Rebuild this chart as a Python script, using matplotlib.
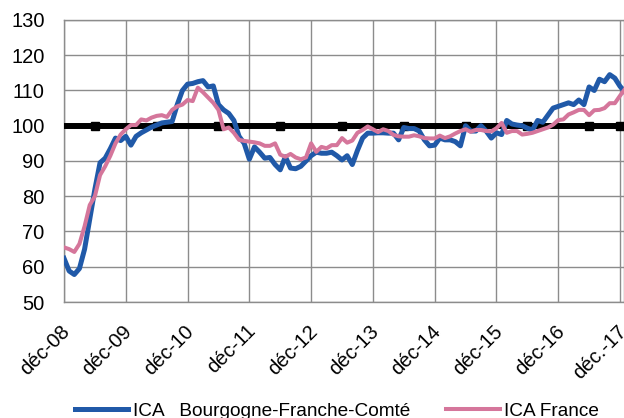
import matplotlib
matplotlib.use("Agg")
import matplotlib.pyplot as plt
import matplotlib.transforms as mtransforms

plt.rcParams['font.family'] = ['Liberation Sans', 'DejaVu Sans']

# Monthly index, déc-08 ... (one point past déc-17)
bfc = [62.4, 58.8, 57.8, 59.5, 65, 73.5, 82, 89.5, 90.8, 93.5, 96.5, 95.8,
       97, 94.5, 97, 98, 98.8, 99.6, 100.2, 100.8, 101, 101.2, 106, 110,
       111.8, 112, 112.5, 112.8, 111, 111.3, 106, 104.5, 103.5, 101.5, 97, 95,
       90.5, 94, 92.5, 90.8, 91, 89, 87.5, 91.2, 88, 87.8, 88.5, 90,
       91.5, 92.5, 92.2, 92.2, 92.5, 91.5, 90.3, 91.5, 89, 93, 96.5, 97.9,
       97.9, 98, 98, 97.9, 97.9, 96, 99.5, 99.2, 99.2, 98.5, 96, 94.3,
       94.5, 96.5, 96, 96, 95.5, 94.3, 100, 98.5, 98.5, 100, 98.5, 96.5,
       98, 97.5, 101.5, 100.5, 100.2, 100, 99.3, 98.8, 101.5, 101, 103, 105,
       105.5, 106, 106.5, 106, 107.3, 106, 111, 110, 113.2, 112.5, 114.5, 113.5,
       111.2, 109.5]
france = [65.5, 65, 64.2, 66.5, 71.5, 77.5, 80, 86, 88.5, 91.5, 95, 97.5,
          99, 100.2, 100.2, 101.8, 101.5, 102.3, 102.8, 103, 102.5, 104.5, 105.5, 106,
          107.3, 107, 110.8, 109.5, 108, 106.5, 104.5, 99, 99.5, 98, 96, 95.7,
          95.5, 95.3, 95, 94.3, 94.3, 95, 91.8, 91.2, 92, 91, 90.5, 91,
          95, 92.6, 94, 93.6, 94.5, 94.5, 96.5, 95.2, 95.8, 98, 98.8, 99.8,
          99, 98.2, 99, 98.5, 97.4, 97, 96.9, 96.9, 97.3, 97, 96.5, 96.4,
          96.4, 97.2, 96.5, 97, 97.8, 98.5, 99, 98.3, 98.8, 98.8, 98.5, 98.4,
          99.3, 100.8, 98, 98.5, 98.5, 97.5, 97.7, 98, 98.5, 99, 99.5, 100.3,
          101.6, 101.8, 103.2, 103.8, 104.5, 104.5, 103, 104.4, 104.5, 105, 106.4, 106.4,
          108.5, 110.5]
base = [100] * len(bfc)
base_markers = [6, 18, 30, 42, 54, 66, 78, 90, 102, 108]

tick_pos = [0, 12, 24, 36, 48, 60, 72, 84, 96, 108]
tick_labels = ['déc-08', 'déc-09', 'déc-10', 'déc-11', 'déc-12', 'déc-13',
               'déc-14', 'déc-15', 'déc-16', 'déc.-17']
yticks = [50, 60, 70, 80, 90, 100, 110, 120, 130]

W, H = 624, 418
fig = plt.figure(figsize=(W / 100, H / 100), dpi=100)
ax = fig.add_axes([64 / W, 1 - 302 / H, 1 - 64 / W, (302 - 20) / H])

x = list(range(len(bfc)))
ax.plot(x, base, color='black', lw=4.3, marker='s', markersize=5.5,
        markevery=base_markers, zorder=3, solid_capstyle='butt')
l1, = ax.plot(x, bfc, color='#2059A8', lw=3.6, zorder=4, solid_joinstyle='round',
              label='ICA   Bourgogne-Franche-Comté')
l2, = ax.plot(x, france, color='#D5769B', lw=2.9, zorder=5, solid_joinstyle='round',
              label='ICA France')

ax.set_xlim(0, (624 - 64) / (556 / 108))
ax.set_ylim(50, 130)
ax.set_yticks(yticks)
ax.set_xticks(tick_pos)
ax.set_xticklabels(tick_labels, rotation=45, ha='right', va='top')
ax.grid(True, color='#8C8C8C', lw=1.0)
ax.set_axisbelow(True)
for s in ax.spines.values():
    s.set_color('#8C8C8C')
    s.set_linewidth(1.0)
ax.tick_params(axis='both', length=0, labelsize=14.5, colors='black')
ax.tick_params(axis='y', pad=14)
ax.tick_params(axis='x', pad=14)
off = mtransforms.ScaledTranslation(10 / 100, 0, fig.dpi_scale_trans)
for lab in ax.get_xticklabels():
    lab.set_transform(lab.get_transform() + off)

fig.legend(handles=[l1, l2], loc='center', bbox_to_anchor=(337 / W, 1 - 411 / H),
           ncol=2, frameon=False, fontsize=13.7, handlelength=2.8,
           handletextpad=0.25, columnspacing=1.9, borderaxespad=0)

fig.savefig('out.png', dpi=100)
